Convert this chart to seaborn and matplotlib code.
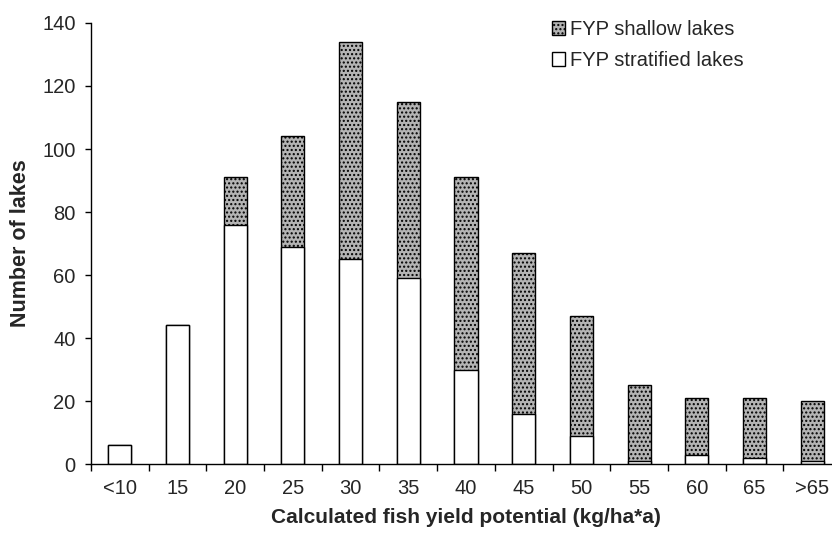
import numpy as np
import pandas as pd
import seaborn as sns
import matplotlib.pyplot as plt

# categories and counts
classes = ["<10", "15", "20", "25", "30", "35", "40", "45", "50", "55", "60", "65", ">65"]
stratified = [6, 44, 76, 69, 65, 59, 30, 16, 9, 1, 3, 2, 1]
shallow = [0, 0, 15, 35, 69, 56, 61, 51, 38, 24, 18, 19, 19]

df = pd.DataFrame({"cls": classes, "stratified": stratified, "shallow": shallow})
df["total"] = df["stratified"] + df["shallow"]

sns.set_style("ticks")
plt.rcParams["font.family"] = ["Liberation Sans", "DejaVu Sans"]

fig = plt.figure(figsize=(8.32, 5.36), dpi=100)
# the original plot area runs a little past the right edge of the picture
ax = fig.add_axes([0.1094, 0.1343, 0.9014, 0.8228])

# shallow part sits on top of the stratified part, so draw the total first
sns.barplot(data=df, x="cls", y="total", order=classes, color="#b4b4b4",
            saturation=1, width=0.4, edgecolor="black", linewidth=1,
            hatch="....", ax=ax, label="FYP shallow lakes")
sns.barplot(data=df, x="cls", y="stratified", order=classes, color="white",
            saturation=1, width=0.4, edgecolor="black", linewidth=1,
            ax=ax, label="FYP stratified lakes")

ax.set_xlim(-0.5, len(classes) - 0.5)
ax.set_ylim(0, 140)
ax.set_yticks(np.arange(0, 141, 20))

# Excel-style: tick marks between categories, labels at the centres
ax.set_xticks(np.arange(len(classes)))
ax.set_xticklabels(classes)
ax.set_xticks(np.arange(len(classes)) - 0.5, minor=True)
ax.tick_params(axis="x", which="major", length=0, pad=11, labelsize=14.5)
ax.tick_params(axis="x", which="minor", length=5, width=1, color="black")
ax.tick_params(axis="y", length=4.5, width=1, color="black", pad=6.5, labelsize=14.5)

for s in ["top", "right"]:
    ax.spines[s].set_visible(False)
for s in ["left", "bottom"]:
    ax.spines[s].set_color("black")
    ax.spines[s].set_linewidth(1)

ax.set_xlabel("Calculated fish yield potential (kg/ha*a)", fontsize=15,
              fontweight="bold", labelpad=7)
ax.set_ylabel("Number of lakes", fontsize=15.5, fontweight="bold", labelpad=8)

ax.legend(loc="upper left", bbox_to_anchor=(0.604, 1.025), frameon=False,
          fontsize=14.5, handlelength=0.65, handleheight=0.65, handletextpad=0.25,
          labelspacing=0.6, borderaxespad=0)

fig.savefig("out.png", dpi=100)
